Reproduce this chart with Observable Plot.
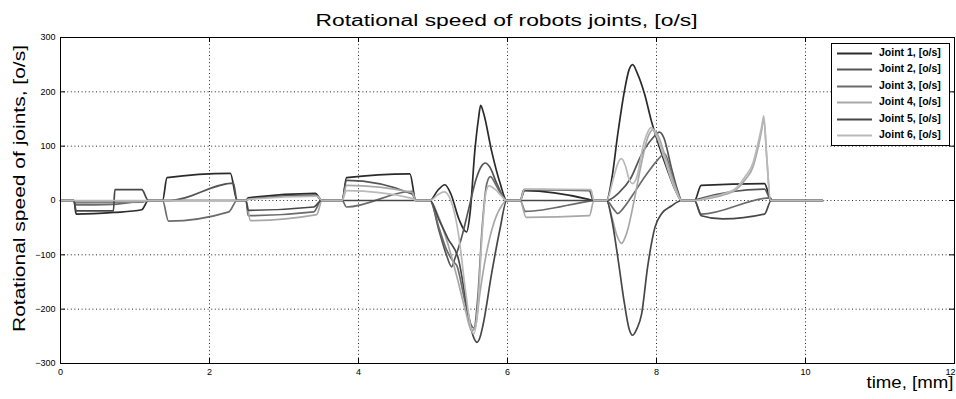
<!DOCTYPE html>
<html><head><meta charset="utf-8">
<script src="https://cdn.jsdelivr.net/npm/d3@7"></script>
<script src="https://cdn.jsdelivr.net/npm/@observablehq/plot@0.6"></script>
<style>
body{margin:0;background:#fff;}
#chart{position:relative;width:956px;height:399px;}
#legend{position:absolute;left:831px;top:43px;width:117px;height:101px;border:1px solid #000;background:#fff;font-family:"Liberation Sans",Arial,sans-serif;font-weight:bold;font-size:10.5px;}
#legend .row{position:absolute;left:0;height:16px;width:117px;}
#legend svg{position:absolute;left:5px;top:0;}
#legend span{position:absolute;left:47px;top:1px;white-space:nowrap;}
</style></head><body><div id="chart"></div>
<script>
const titleText = "Rotational speed of robots joints, [o/s]";
const yLabelText = "Rotational speed of joints, [o/s]";
const xLabelText = "time, [mm]";
const jointNames = ["Joint 1, [o/s]","Joint 2, [o/s]","Joint 3, [o/s]","Joint 4, [o/s]","Joint 5, [o/s]","Joint 6, [o/s]"];
const jointColors = ["#2b2b2b","#555555","#6b6b6b","#a8a8a8","#474747","#b9b9b9"];
const xTicks = [0,2,4,6,8,10,12];
const yTicks = [-300,-200,-100,0,100,200,300];

// [time, speed]
const joint1 = [[0,0],[0.18,0],[0.21,-25],[0.72,-22],[1.09,-17],[1.18,0],
 [1.37,0],[1.43,42],[2.28,50],[2.37,0],
 [2.49,0],[2.52,5],[3.42,13],[3.51,0],
 [3.78,0],[3.84,42],[4.69,49],[4.77,0],
 [4.96,0],[5.06,18],[5.16,29],[5.24,12],[5.35,-35],[5.45,-58],[5.5,-20],[5.56,89],[5.61,150],[5.64,175],[5.68,160],[5.79,89],[5.9,32],[5.99,0],
 [6.17,0],[6.23,18],[7.09,2],[7.15,0],
 [7.33,0],[7.4,40],[7.48,122],[7.57,202],[7.63,240],[7.68,250],[7.74,235],[7.84,196],[7.93,147],[8.04,98],[8.15,55],[8.25,20],[8.34,0],
 [8.51,0],[8.6,28],[9.45,31],[9.54,0],[10.23,0]];
const joint2 = [[0,0],[0.18,0],[0.2,-4],[1.09,-3],[1.18,0],
 [1.47,0],[2.32,32],[2.37,0],
 [2.49,0],[2.52,3],[3.42,10],[3.51,0],
 [3.78,0],[3.84,37],[4.72,12],[4.77,0],
 [4.96,0],[5.08,-55],[5.18,-100],[5.25,-122],[5.29,-108],[5.38,-70],[5.48,-15],[5.58,40],[5.65,63],[5.7,69],[5.76,62],[5.86,30],[5.99,0],
 [6.17,0],[6.22,20],[7.1,18],[7.15,0],
 [7.33,0],[7.5,15],[7.65,40],[7.8,85],[7.95,115],[8.04,126],[8.1,115],[8.2,60],[8.28,20],[8.34,0],
 [8.51,0],[8.55,2],[9.45,21],[9.54,0],[10.23,0]];
const joint3 = [[0,0],[0.18,0],[0.2,-8],[0.72,-7],[1.18,0],
 [1.37,0],[1.45,-38],[2.26,-21],[2.37,0],
 [2.49,0],[2.52,-28],[3.4,-21],[3.5,0],
 [3.78,0],[3.84,-12],[4.72,17],[4.77,0],
 [4.96,0],[5.08,-50],[5.18,-90],[5.27,-112],[5.32,-120],[5.42,-180],[5.5,-225],[5.55,-235],[5.6,-180],[5.66,-50],[5.72,30],[5.77,44],[5.84,30],[5.92,10],[5.99,0],
 [6.17,0],[6.24,-20],[7.1,-1],[7.15,0],
 [7.33,0],[7.42,-15],[7.48,-24],[7.55,-15],[7.68,10],[7.85,45],[8.0,72],[8.11,86],[8.2,50],[8.28,15],[8.34,0],
 [8.51,0],[8.6,-25],[9.53,5],[9.55,0],[10.23,0]];
const joint4 = [[0,0],[0.18,0],[0.2,-2],[1.1,-2],[1.18,0],
 [2.49,0],[2.55,-37],[3.44,-26],[3.51,0],
 [3.78,0],[3.84,28],[4.72,15],[4.77,0],
 [4.96,0],[5.06,-25],[5.2,-80],[5.32,-140],[5.44,-205],[5.52,-240],[5.57,-232],[5.63,-170],[5.72,-95],[5.82,-40],[5.92,-10],[5.99,0],
 [6.17,0],[6.25,-31],[7.1,-28],[7.16,0],
 [7.33,0],[7.4,-30],[7.47,-65],[7.53,-79],[7.6,-60],[7.7,0],[7.8,70],[7.88,115],[7.95,130],[8.02,120],[8.12,80],[8.24,30],[8.34,0],
 [8.51,0],[8.7,4],[8.89,10],[9.07,20],[9.2,40],[9.29,60],[9.36,95],[9.41,128],[9.44,150],[9.48,78],[9.53,0],[10.23,0]];
const joint5 = [[0,0],[0.18,0],[0.21,-19],[0.71,-19],[0.73,20],[1.09,20],[1.18,0],
 [2.49,0],[2.52,-18],[3.4,-12],[3.5,0],
 [4.96,0],[5.08,-35],[5.2,-70],[5.34,-107],[5.47,-206],[5.54,-250],[5.59,-261],[5.63,-252],[5.67,-230],[5.79,-132],[5.9,-52],[5.99,0],
 [7.33,0],[7.4,-35],[7.48,-104],[7.57,-190],[7.63,-235],[7.68,-248],[7.74,-235],[7.8,-209],[7.88,-123],[7.98,-49],[8.07,-24],[8.2,-10],[8.34,0],
 [8.51,0],[8.6,-28],[8.89,-34],[9.45,-25],[9.54,0],[10.23,0]];
const joint6 = [[0,0],[2.49,0],[2.52,2],[3.44,8],[3.51,0],
 [3.78,0],[3.84,18],[4.72,4],[4.77,0],
 [4.96,0],[5.06,10],[5.15,16],[5.24,0],[5.34,-60],[5.44,-170],[5.51,-235],[5.55,-245],[5.6,-200],[5.66,-60],[5.71,15],[5.75,27],[5.84,20],[5.92,8],[5.99,0],
 [6.17,0],[6.23,21],[7.12,20],[7.16,0],
 [7.33,0],[7.42,40],[7.48,68],[7.53,77],[7.58,65],[7.63,40],[7.68,31],[7.74,45],[7.82,100],[7.88,125],[7.93,134],[7.99,122],[8.1,80],[8.22,30],[8.34,0],
 [8.51,0],[8.71,6],[8.89,12],[9.07,23],[9.2,46],[9.29,67],[9.36,104],[9.41,135],[9.44,156],[9.48,80],[9.53,0],[10.23,0]];

const series = [joint1, joint2, joint3, joint4, joint5, joint6];
const rows = [];
series.forEach((arr, i) => arr.forEach(([t, v]) => rows.push({joint: jointNames[i], t, v})));
const lastTick = xTicks[xTicks.length - 1];

const plot = Plot.plot({
  width: 956, height: 399,
  marginLeft: 60, marginRight: 2, marginTop: 37, marginBottom: 36,
  style: {fontFamily: "'Liberation Sans', Arial, sans-serif", fontSize: "9px", background: "#fff", color: "#000"},
  x: {domain: [0, 12]},
  y: {domain: [-300, 300]},
  color: {domain: jointNames, range: jointColors},
  marks: [
    Plot.gridX(xTicks, {stroke: "#000", strokeOpacity: 0.85, strokeDasharray: "1,2.6"}),
    Plot.gridY(yTicks, {stroke: "#000", strokeOpacity: 0.85, strokeDasharray: "1,2.6"}),
    Plot.ruleX(xTicks, {insetTop: 321, stroke: "#000"}),
    Plot.ruleX(xTicks, {insetBottom: 321, stroke: "#000"}),
    Plot.ruleY(yTicks, {insetRight: 889, stroke: "#000"}),
    Plot.ruleY(yTicks, {insetLeft: 889, stroke: "#000"}),
    Plot.axisX(xTicks.filter(d => d !== lastTick), {tickSize: 0, tickPadding: 5, label: null, fontSize: 9}),
    Plot.axisX([lastTick], {tickSize: 0, tickPadding: 5, label: null, fontSize: 9, textAnchor: "end", dx: 1}),
    Plot.axisY(yTicks, {tickSize: 0, tickPadding: 5, label: null, fontSize: 9}),
    Plot.line(rows, {x: "t", y: "v", z: "joint", stroke: "joint", strokeWidth: 1.7, curve: "monotone-x"}),
    Plot.frame({stroke: "#000", strokeWidth: 1}),
    Plot.text([titleText], {frameAnchor: "top", dy: -23, dx: -1, fontSize: 16}),
    Plot.text([yLabelText], {frameAnchor: "left", fontSize: 16}),
    Plot.text([xLabelText], {frameAnchor: "bottom-right", textAnchor: "end", dy: 24, dx: -1, fontSize: 16})
  ]
});
const svg = d3.select(plot);
svg.selectAll("text").each(function() {
  const t = this.textContent;
  const s = d3.select(this);
  if (t === titleText) s.attr("textLength", 382).attr("lengthAdjust", "spacingAndGlyphs");
  if (t === xLabelText) s.attr("textLength", 87).attr("lengthAdjust", "spacingAndGlyphs");
  if (t === yLabelText) {
    s.attr("transform", "translate(19,188) rotate(-90)").attr("x", null).attr("y", null).attr("dx", null)
     .attr("text-anchor", "middle").attr("dy", "0.32em")
     .attr("textLength", 287).attr("lengthAdjust", "spacingAndGlyphs");
  }
});
const chart = document.getElementById("chart");
chart.appendChild(plot);

const legend = document.createElement("div");
legend.id = "legend";
jointNames.forEach((name, i) => {
  const row = document.createElement("div");
  row.className = "row";
  row.style.top = (1 + i * 16.4) + "px";
  row.innerHTML = `<svg width="36" height="16"><line x1="0" x2="35" y1="8.5" y2="8.5" stroke="${jointColors[i]}" stroke-width="2"/></svg><span>${name}</span>`;
  legend.appendChild(row);
});
chart.appendChild(legend);
</script>
</body></html>
